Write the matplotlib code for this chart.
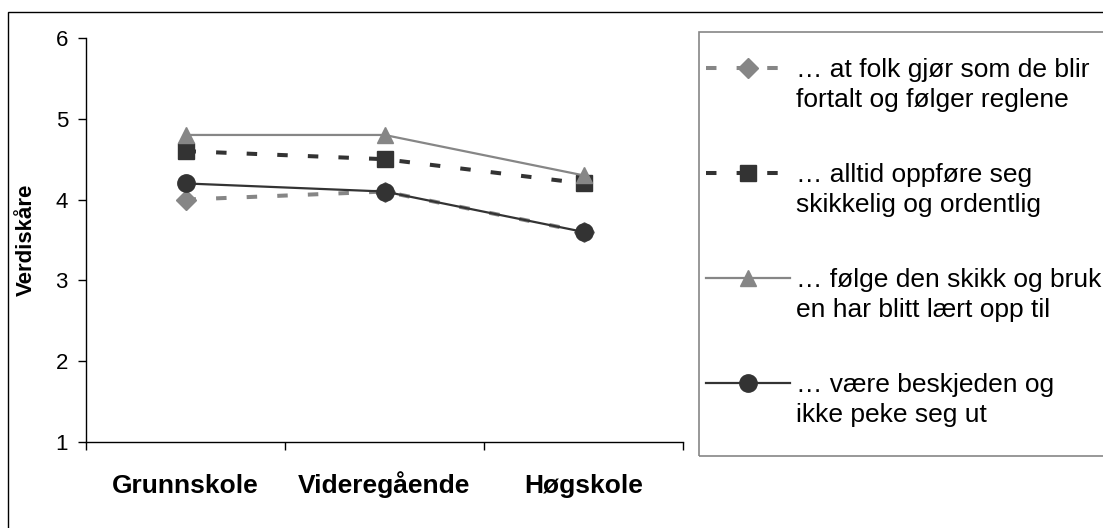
import matplotlib
matplotlib.use("Agg")
from matplotlib import pyplot as plt
from matplotlib.lines import Line2D
from matplotlib.patches import Rectangle

plt.rcParams['font.family'] = ['Liberation Sans', 'DejaVu Sans']

# data
skoler = ["Grunnskole", "Videregående", "Høgskole"]
folk_regler = [4.0, 4.1, 3.6]
oppfore_seg = [4.6, 4.5, 4.2]
skikk_bruk = [4.8, 4.8, 4.3]
beskjeden = [4.2, 4.1, 3.6]
etiketter = ["… at folk gjør som de blir\nfortalt og følger reglene",
             "… alltid oppføre seg\nskikkelig og ordentlig",
             "… følge den skikk og bruk\nen har blitt lært opp til",
             "… være beskjeden og\nikke peke seg ut"]

W, H = 1103, 528
grey = "#868686"
dark = "#333333"

styles = [
    dict(color=grey, lw=2.9, dashes=(2.6, 5), marker="D", ms=10),
    dict(color=dark, lw=2.9, dashes=(2.6, 5), marker="s", ms=11),
    dict(color=grey, lw=1.6, ls="-", marker="^", ms=12),
    dict(color=dark, lw=1.6, ls="-", marker="o", ms=12.5),
]
series = [folk_regler, oppfore_seg, skikk_bruk, beskjeden]

fig = plt.figure(figsize=(W / 100, H / 100), dpi=100)
ax = fig.add_axes([86 / W, 1 - 442 / H, (683 - 86) / W, (442 - 38) / H])

x = range(len(skoler))
for vals, st in zip(series, styles):
    ax.plot(x, vals, **st, zorder=3)

ax.set_xlim(-0.5, 2.5)
ax.set_ylim(1, 6)
ax.set_yticks([1, 2, 3, 4, 5, 6])
ax.set_xticks(list(x))
ax.set_xticklabels(skoler, fontsize=19, fontweight="bold", va="baseline")
ax.set_xticks([-0.5, 0.5, 1.5, 2.5], minor=True)
ax.tick_params(axis="x", which="major", length=0, pad=37)
ax.tick_params(axis="x", which="minor", length=6, direction="out", width=1)
ax.tick_params(axis="y", length=6, direction="out", width=1, labelsize=16, pad=7)
ax.spines["top"].set_visible(False)
ax.spines["right"].set_visible(False)
for s in ("left", "bottom"):
    ax.spines[s].set_linewidth(1)

fig.text(26 / W, 1 - 240 / H, "Verdiskåre", rotation=90, ha="center",
         va="center", fontsize=16, fontweight="bold")

# outer chart frame
fig.patches.append(Rectangle((8 / W, -0.1), 1.2, 1 - 12 / H + 0.1, transform=fig.transFigure,
                             fill=False, edgecolor="black", lw=1))
# legend frame
fig.patches.append(Rectangle((699 / W, 1 - 456 / H), 0.5, (456 - 32) / H,
                             transform=fig.transFigure, fill=False,
                             edgecolor=grey, lw=1.2))

# legend entries
rows = [68, 173, 278, 383]
for y, lab, st in zip(rows, etiketter, styles):
    yf = 1 - y / H
    line_kw = {k: v for k, v in st.items() if k not in ("marker", "ms")}
    fig.lines.append(Line2D([706 / W, 790 / W], [yf, yf], transform=fig.transFigure, **line_kw))
    fig.lines.append(Line2D([748 / W], [yf], transform=fig.transFigure, color=st["color"],
                            marker=st["marker"], ms=st["ms"], ls="none"))
    fig.text(796 / W, 1 - (y + 17) / H, lab, fontsize=19, ha="left", va="center",
             linespacing=1.3)

fig.savefig("out.png", dpi=100)
